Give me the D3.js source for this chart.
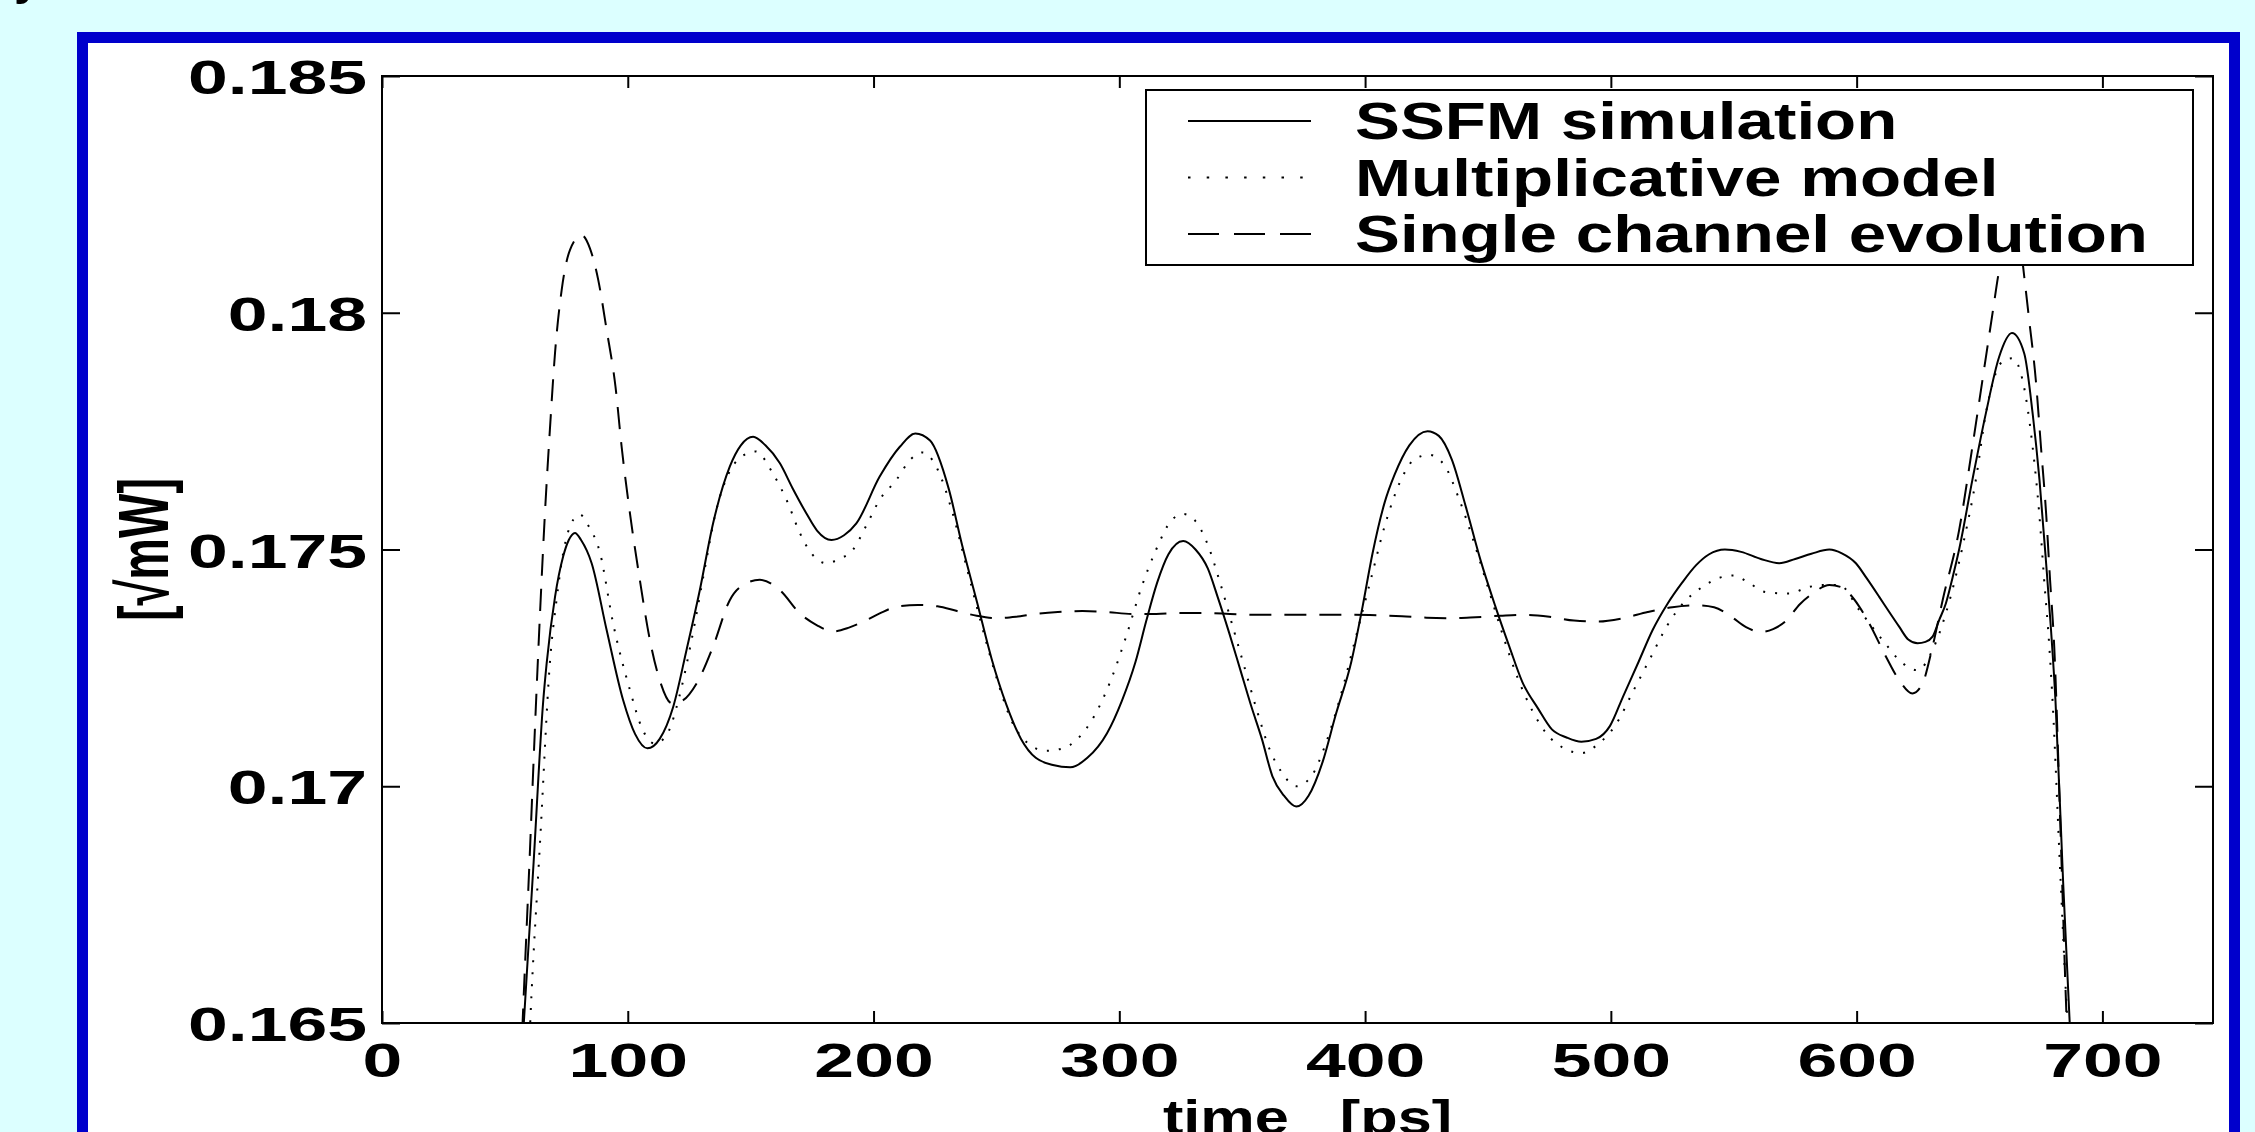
<!DOCTYPE html>
<html>
<head>
<meta charset="utf-8">
<style>
  body { margin: 0; background: #dcffff; overflow: hidden; }
  svg { display: block; }
  text { font-family: 'Liberation Sans', Arial, sans-serif; font-weight: bold; fill: #000; }
</style>
</head>
<body>
<svg width="2255" height="1132"></svg>

<script src="https://cdn.jsdelivr.net/npm/d3@7"></script>
<script>
// ---- data: [time ps, amplitude sqrt(mW)] ----
const ssfm = [[56.5,0.1640],[57.7,0.1650],[61.7,0.1684],[65.6,0.1718],[67,0.1726],[70.4,0.1740],[73.7,0.17485],[76,0.1752],[78.5,0.17535],[81,0.1752],[85.3,0.17471],[91.4,0.1733],[98.1,0.17182],[103,0.1711],[108,0.1708],[113,0.1710],[118.5,0.17168],[124,0.1729],[129.3,0.17414],[134.7,0.17555],[141.5,0.17675],[146,0.1772],[151,0.17738],[156,0.1772],[161.9,0.17682],[167,0.1763],[172.7,0.17576],[177,0.1754],[182.9,0.1752],[188,0.1753],[193,0.17555],[202.5,0.17654],[210.7,0.17717],[217,0.17745],[223,0.1773],[230.6,0.17628],[236,0.1751],[242.3,0.17385],[248,0.1727],[254,0.17173],[260,0.1710],[266,0.1706],[273,0.17045],[280,0.1704],[287,0.1706],[295,0.17112],[301,0.1718],[306.6,0.17263],[311,0.1735],[315.4,0.1743],[320,0.1749],[326,0.17518],[331,0.1750],[336,0.1746],[340,0.1740],[344.7,0.17324],[349,0.1725],[353.5,0.17172],[358,0.1710],[362.3,0.17021],[367,0.1698],[372,0.16957],[377,0.1698],[382.7,0.17051],[388,0.1715],[394.4,0.17263],[399,0.1738],[403,0.17491],[408,0.1760],[412,0.17658],[418,0.1772],[425.4,0.1775],[430,0.1774],[435.3,0.1769],[441,0.1759],[447,0.17477],[453,0.1738],[458.7,0.17295],[464,0.1722],[470.4,0.17164],[476,0.1712],[482,0.17103],[488,0.17094],[494,0.1710],[499.6,0.17127],[505,0.1719],[511.3,0.17263],[517,0.1733],[523,0.17385],[529,0.1743],[534.7,0.17467],[540,0.1749],[546.4,0.175],[553,0.17495],[561,0.1748],[568.5,0.17471],[575,0.1748],[581.6,0.17491],[588.9,0.175],[594,0.17492],[599.7,0.17471],[604,0.1744],[609.2,0.174],[613,0.1737],[617.3,0.17337],[621,0.1731],[624.8,0.17302],[628,0.17305],[630.9,0.17316],[633.5,0.1735],[636.3,0.17386],[639,0.1744],[641.7,0.175],[647.1,0.17647],[652.6,0.17788],[658,0.17907],[663.2,0.17957],[668.2,0.17914],[671.6,0.17788],[674.4,0.17647],[677.1,0.17471],[679.1,0.1733],[680.9,0.17182],[684,0.1680],[686.7,0.1650],[688,0.1635]];

const multiplicative = [[59.5,0.1640],[60.3,0.1650],[64.5,0.1690],[68.3,0.1726],[71,0.17393],[74,0.1750],[77,0.17555],[80.5,0.17574],[84,0.1755],[88.7,0.17493],[94,0.17345],[100.9,0.17203],[106,0.1712],[111,0.1709],[116,0.1711],[121,0.1719],[126,0.1731],[131,0.1745],[136,0.17583],[141,0.1766],[146,0.17695],[152,0.17707],[159,0.17661],[165,0.1760],[170,0.17535],[175,0.1749],[180.8,0.17471],[186,0.1748],[191.7,0.175],[197,0.1755],[202.5,0.17605],[209.3,0.17647],[215,0.1769],[220,0.17705],[226,0.1767],[232,0.1758],[238,0.1746],[244,0.1734],[250,0.1723],[256,0.1714],[263,0.1709],[270,0.17075],[277,0.1708],[283,0.1710],[290,0.1715],[297,0.1723],[303,0.1732],[309,0.1742],[315,0.1750],[321,0.1756],[326,0.17575],[331,0.1756],[336,0.1751],[341,0.1743],[346,0.1734],[351,0.1725],[356,0.1716],[361,0.1708],[366,0.1703],[372,0.1700],[378,0.1702],[384,0.1709],[390,0.1719],[396,0.1731],[402,0.1743],[408,0.1755],[414,0.1764],[420,0.1769],[426,0.1770],[432,0.1768],[438,0.1761],[444,0.1752],[450,0.1742],[456,0.1732],[462,0.1723],[468,0.1716],[474,0.1711],[481,0.1708],[488,0.1707],[495,0.1709],[502,0.1713],[509,0.1720],[516,0.1727],[523,0.1734],[530,0.1739],[537,0.1742],[544,0.1744],[550,0.17445],[556,0.1743],[563,0.1741],[572.6,0.17407],[580,0.1742],[586.1,0.17425],[593,0.17425],[601.1,0.17372],[610.5,0.17309],[618.7,0.1726],[624.8,0.17245],[630.9,0.17288],[636.3,0.17365],[643.1,0.17506],[648.5,0.17647],[652.6,0.17788],[656.6,0.17872],[660,0.1790],[663.4,0.17904],[667.5,0.17858],[671.6,0.17717],[674.3,0.17576],[676.3,0.17436],[678.4,0.17295],[679.7,0.17182],[683,0.1680],[685.8,0.1650],[687,0.1640]];

const singleChannel = [[56.5,0.1641],[57.2,0.1650],[60,0.1684],[62.6,0.17168],[64.3,0.17366],[66.3,0.17577],[68.3,0.17752],[70.4,0.17915],[73.1,0.18048],[76.5,0.18133],[81.2,0.18164],[84.6,0.18136],[88,0.18069],[91.4,0.17964],[95,0.17844],[97.5,0.17717],[100.9,0.17576],[104.9,0.17436],[109,0.17309],[113,0.17224],[118,0.17175],[122,0.1718],[128,0.17217],[134.7,0.17295],[141.5,0.17393],[148.3,0.17429],[153.7,0.17436],[161.9,0.17414],[170,0.17365],[177,0.1734],[183.5,0.17327],[190,0.17335],[196,0.17348],[202.5,0.17365],[210,0.1738],[218,0.17383],[226,0.1738],[234,0.1737],[242,0.1736],[250,0.17355],[258,0.17358],[266,0.17364],[275,0.17368],[285,0.1737],[295,0.17368],[305,0.17364],[315,0.17364],[325,0.17366],[335,0.17366],[345,0.17364],[355,0.17362],[365,0.17362],[375,0.17362],[385,0.17362],[395,0.17362],[405,0.17361],[415,0.17359],[425,0.17356],[435,0.17355],[445,0.17357],[455,0.1736],[465,0.17362],[475,0.17358],[485,0.1735],[495,0.17348],[505,0.17355],[515,0.17368],[525,0.17378],[535,0.17382],[542,0.17378],[549,0.17358],[555,0.17336],[561,0.17326],[566,0.17332],[571,0.17348],[577,0.17385],[582.1,0.17407],[588.9,0.17425],[594,0.1742],[597,0.17407],[601,0.1738],[605.1,0.17344],[611.9,0.17274],[617.3,0.17224],[622.7,0.17196],[626.8,0.17217],[630.9,0.17295],[635,0.17393],[641.7,0.17541],[647.1,0.17717],[651.2,0.17858],[655.3,0.17999],[658,0.1809],[661.5,0.1816],[664.5,0.1818],[667,0.1813],[668.2,0.18076],[670.2,0.17985],[672.9,0.17858],[675,0.17717],[677.1,0.17576],[678.7,0.17436],[680.4,0.17295],[683,0.1690],[685.5,0.1650],[686.5,0.1638]];

const seriesNames = ["SSFM simulation", "Multiplicative model", "Single channel evolution"];
const xTicks = [0, 100, 200, 300, 400, 500, 600, 700];
const yTicks = [0.165, 0.17, 0.175, 0.18, 0.185];
const yTickLabels = ["0.165", "0.17", "0.175", "0.18", "0.185"];
const xLabel = "time   [ps]";
const yLabel = "[\u221AmW]";

// ---- layout ----
let svg = d3.select("svg");
let plot = {left: 382, right: 2213, top: 76, bottom: 1023};
let stretch = 1.46;   // the original picture is stretched sideways

// blue frame round a white panel
svg.append("rect")
    .attr("x", 82.5).attr("y", 37.5)
    .attr("width", 2152).attr("height", 1300)
    .attr("fill", "white")
    .attr("stroke", "#0000cc")
    .attr("stroke-width", 11)

// tail of a letter from the line above, cut off by the top edge
svg.append("text")
    .attr("x", 14).attr("y", -6)
    .attr("font-size", 49)
    .text("y")

let x = d3.scaleLinear().domain([0, 745]).range([plot.left, plot.right])
let y = d3.scaleLinear().domain([0.165, 0.185]).range([plot.bottom, plot.top])

svg.append("clipPath").attr("id", "clip")
    .append("rect")
    .attr("x", plot.left).attr("y", plot.top)
    .attr("width", plot.right - plot.left).attr("height", plot.bottom - plot.top)

let line = d3.line()
    .x(d => x(d[0]))
    .y(d => y(d[1]))
    .curve(d3.curveMonotoneX)

let styles = [
    {data: ssfm, dash: null, legendDash: null},
    {data: multiplicative, dash: "2,10", legendDash: "2.5,16.2"},
    {data: singleChannel, dash: "22,13", legendDash: "31,15"}
]

svg.append("g")
    .attr("clip-path", "url(#clip)")
    .selectAll("path")
    .data(styles)
    .join("path")
    .attr("d", d => line(d.data))
    .attr("fill", "none")
    .attr("stroke", "black")
    .attr("stroke-width", 2)
    .attr("stroke-dasharray", d => d.dash)

// stretch text sideways about its anchor
function widen(sel, sx) {
    sel.each(function () {
        let t = d3.select(this)
        let tx = +t.attr("x") || 0
        let ty = +t.attr("y") || 0
        t.attr("x", null).attr("y", null)
            .attr("transform", `translate(${tx},${ty}) scale(${sx},1)`)
    })
}

// axes: ticks point inward on all four sides
let bottomAxis = svg.append("g")
    .attr("transform", `translate(0,${plot.bottom})`)
    .call(d3.axisBottom(x).tickValues(xTicks).tickFormat(d3.format("d"))
        .tickSizeInner(-12).tickSizeOuter(0).tickPadding(19))
let topAxis = svg.append("g")
    .attr("transform", `translate(0,${plot.top})`)
    .call(d3.axisTop(x).tickValues(xTicks).tickFormat("")
        .tickSizeInner(-12).tickSizeOuter(0))
let leftAxis = svg.append("g")
    .attr("transform", `translate(${plot.left},0)`)
    .call(d3.axisLeft(y).tickValues(yTicks).tickFormat((d, i) => yTickLabels[i])
        .tickSizeInner(-18).tickSizeOuter(0).tickPadding(15))
let rightAxis = svg.append("g")
    .attr("transform", `translate(${plot.right},0)`)
    .call(d3.axisRight(y).tickValues(yTicks).tickFormat("")
        .tickSizeInner(-18).tickSizeOuter(0))

svg.selectAll(".domain").remove()
svg.selectAll(".tick line").attr("stroke", "black").attr("stroke-width", 2)
svg.selectAll(".tick text")
    .attr("font-size", 49)
    .attr("font-family", "'Liberation Sans', Arial, sans-serif")
    .attr("fill", "black")
leftAxis.selectAll("text").attr("dy", "0.36em")
widen(bottomAxis.selectAll("text"), stretch)
widen(leftAxis.selectAll("text"), stretch)

// plot box
svg.append("rect")
    .attr("x", plot.left).attr("y", plot.top)
    .attr("width", plot.right - plot.left).attr("height", plot.bottom - plot.top)
    .attr("fill", "none")
    .attr("stroke", "black")
    .attr("stroke-width", 2)

// axis titles
svg.append("text")
    .attr("transform", `translate(${(plot.left + plot.right) / 2 + 10},1134) scale(1.25,1)`)
    .attr("text-anchor", "middle")
    .attr("font-size", 49)
    .style("white-space", "pre")
    .text(xLabel)

svg.append("text")
    .attr("transform", `translate(168,${(plot.top + plot.bottom) / 2}) scale(1.5,1) rotate(-90)`)
    .attr("text-anchor", "middle")
    .attr("font-size", 47)
    .text(yLabel)

// legend
let legend = svg.append("g")
legend.append("rect")
    .attr("x", 1146).attr("y", 90)
    .attr("width", 2193 - 1146).attr("height", 265 - 90)
    .attr("fill", "white")
    .attr("stroke", "black")
    .attr("stroke-width", 2)

let rows = legend.selectAll(".row")
    .data(styles)
    .join("g")
    .attr("class", "row")
    .attr("transform", (d, i) => `translate(0,${139 + i * 56.5})`)

rows.append("line")
    .attr("x1", 1188).attr("x2", 1311)
    .attr("y1", -18).attr("y2", -18)
    .attr("stroke", "black")
    .attr("stroke-width", 2)
    .attr("stroke-dasharray", d => d.legendDash)

rows.append("text")
    .attr("transform", "translate(1355,0) scale(1.32,1)")
    .attr("font-size", 51)
    .text((d, i) => seriesNames[i])
</script>
</body>
</html>
